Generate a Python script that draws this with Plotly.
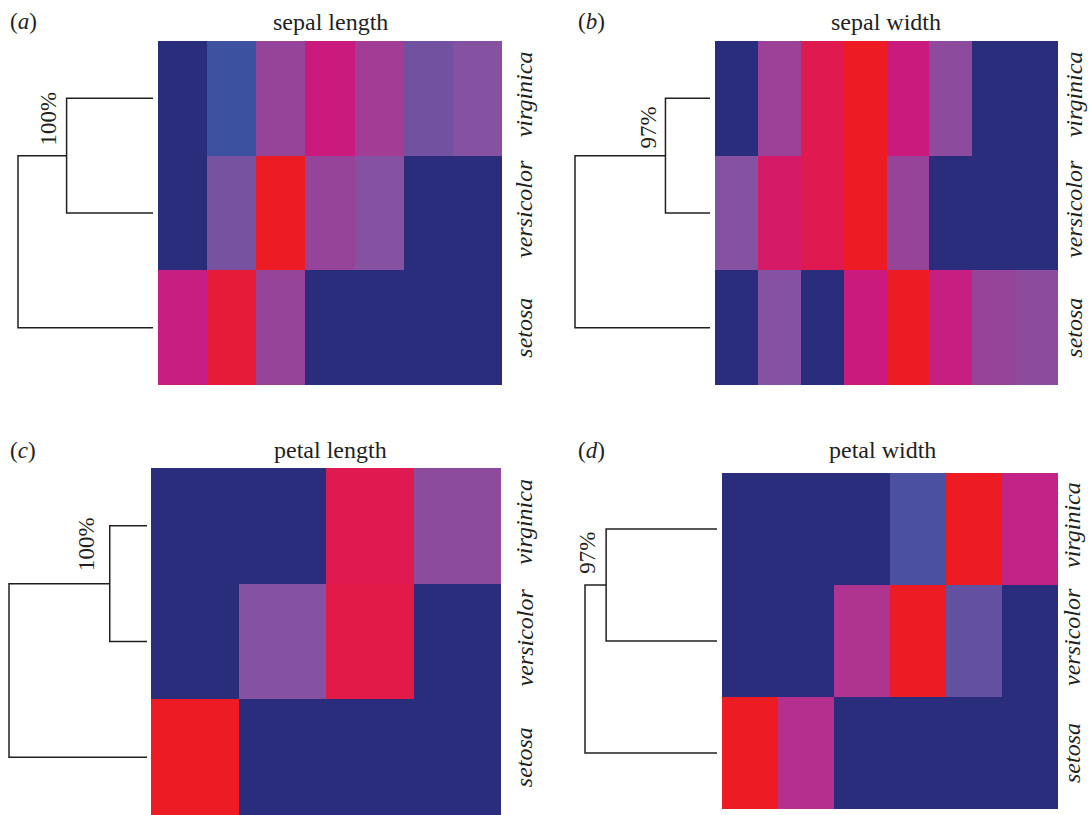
import plotly.graph_objects as go

W, H = 1090, 815

# ---------------- data ----------------
species = ["virginica", "versicolor", "setosa"]          # rows, top to bottom
titles = ["sepal length", "sepal width", "petal length", "petal width"]
letters = ["a", "b", "c", "d"]
support = ["100%", "97%", "100%", "97%"]

# relative frequency per bin (0 = lowest, 1 = highest), rows top to bottom
sepal_length = [
    [0.00, 0.12, 0.60, 0.80, 0.64, 0.38, 0.50],
    [0.00, 0.40, 1.00, 0.60, 0.50, 0.00, 0.00],
    [0.78, 0.95, 0.60, 0.00, 0.00, 0.00, 0.00],
]
sepal_width = [
    [0.00, 0.62, 0.90, 1.00, 0.80, 0.55, 0.00, 0.00],
    [0.50, 0.85, 0.90, 1.00, 0.60, 0.00, 0.00, 0.00],
    [0.00, 0.50, 0.00, 0.80, 1.00, 0.78, 0.60, 0.55],
]
petal_length = [
    [0.00, 0.00, 0.90, 0.55],
    [0.00, 0.50, 0.92, 0.00],
    [1.00, 0.00, 0.00, 0.00],
]
petal_width = [
    [0.00, 0.00, 0.00, 0.20, 1.00, 0.76],
    [0.00, 0.00, 0.68, 1.00, 0.30, 0.00],
    [1.00, 0.70, 0.00, 0.00, 0.00, 0.00],
]
panels_z = [sepal_length, sepal_width, petal_length, petal_width]

# dendrogram merge heights (virginica+versicolor, then + setosa)
dendro_inner = [0.64, 0.33, 0.27, 0.84]
dendro_root = [1.0, 1.0, 1.0, 1.0]

colorscale = [
    [0.00, "#2A2D7B"],
    [0.12, "#3C52A1"],
    [0.20, "#4B50A0"],
    [0.30, "#6450A0"],
    [0.40, "#7652A0"],
    [0.50, "#8452A0"],
    [0.60, "#96449A"],
    [0.70, "#B5308E"],
    [0.80, "#CB1A7E"],
    [0.90, "#DE1A50"],
    [1.00, "#ED1C24"],
]

# ---------------- layout geometry (pixels) ----------------
geom = [
    dict(hx=(158, 502), hy=(41, 385), dx=(18, 153), lab_x=524, sup_dx=-18, sup_y=1.82,
         title=(330, 22), letter=(8, 22)),
    dict(hx=(715, 1058), hy=(41, 385), dx=(575, 710), lab_x=1074, sup_dx=-17, sup_y=1.75,
         title=(886, 22), letter=(576, 22)),
    dict(hx=(151, 501), hy=(468, 815), dx=(9, 147), lab_x=524, sup_dx=-23, sup_y=1.84,
         title=(330, 450), letter=(8, 450)),
    dict(hx=(722, 1058), hy=(473, 809), dx=(585, 717), lab_x=1072, sup_dx=-19, sup_y=1.79,
         title=(882, 450), letter=(576, 450)),
]

FONT = "'Liberation Serif', 'Times New Roman', Times, serif"
TXT = "#231F20"


def px(x):
    return x / W


def py(y):
    return 1 - y / H


fig = go.Figure()
layout = dict(
    width=W, height=H, margin=dict(l=0, r=0, t=0, b=0),
    paper_bgcolor="white", plot_bgcolor="white", showlegend=False,
    font=dict(family=FONT, color=TXT),
)
annotations = []

for i in range(4):
    g = geom[i]
    z = panels_z[i]
    ncol = len(z[0])
    hx_ax = f"x{2 * i + 1}"
    hy_ax = f"y{2 * i + 1}"
    dx_ax = f"x{2 * i + 2}"
    dy_ax = f"y{2 * i + 2}"
    ydom = [py(g["hy"][1]), py(g["hy"][0])]

    # heatmap (bottom row = setosa)
    fig.add_trace(go.Heatmap(
        z=z[::-1], x=list(range(ncol)), y=[0, 1, 2],
        colorscale=colorscale, zmin=0, zmax=1, showscale=False,
        hoverinfo="skip", xaxis=hx_ax, yaxis=hy_ax,
    ))
    layout["xaxis" + str(2 * i + 1)] = dict(
        domain=[px(g["hx"][0]), px(g["hx"][1])], range=[-0.5, ncol - 0.5],
        visible=False, anchor=hy_ax, fixedrange=True)
    layout["yaxis" + str(2 * i + 1)] = dict(
        domain=ydom, range=[-0.5, 2.5], visible=False, anchor=hx_ax, fixedrange=True)

    # dendrogram
    inner, root = dendro_inner[i], dendro_root[i]
    fig.add_trace(go.Scatter(
        x=[0, inner, inner, 0, None, inner, root, root, 0],
        y=[2, 2, 1, 1, None, 1.5, 1.5, 0, 0],
        mode="lines", line=dict(color="#231F20", width=1.5),
        hoverinfo="skip", xaxis=dx_ax, yaxis=dy_ax,
    ))
    pad = 3
    span_px = g["dx"][1] - g["dx"][0]
    pad_h = pad * root / span_px
    layout["xaxis" + str(2 * i + 2)] = dict(
        domain=[px(g["dx"][0] - pad), px(g["dx"][1] + pad)],
        range=[root + pad_h, -pad_h], visible=False, anchor=dy_ax, fixedrange=True)
    layout["yaxis" + str(2 * i + 2)] = dict(
        domain=ydom, range=[-0.5, 2.5], visible=False, anchor=dx_ax, fixedrange=True)

    # bootstrap support
    annotations.append(dict(
        text=support[i], x=inner, y=g["sup_y"], xref=dx_ax, yref=dy_ax,
        xshift=g["sup_dx"], textangle=-90, showarrow=False,
        xanchor="center", yanchor="middle", font=dict(size=23, family=FONT, color=TXT)))

    # species labels
    for r, name in enumerate(species):
        annotations.append(dict(
            text=f"<i>{name}</i>", x=px(g["lab_x"]), y=2 - r, xref="paper", yref=hy_ax,
            yshift=4 if r < 2 else 0, borderpad=0,
            textangle=-90, showarrow=False, xanchor="center", yanchor="middle",
            font=dict(size=24, family=FONT, color=TXT)))

    # title & panel letter
    annotations.append(dict(
        text=titles[i], x=px(g["title"][0]), y=py(g["title"][1]), xref="paper", yref="paper",
        showarrow=False, xanchor="center", yanchor="middle",
        font=dict(size=24, family=FONT, color=TXT)))
    annotations.append(dict(
        text=f"(<i>{letters[i]}</i>)", x=px(g["letter"][0]), y=py(g["letter"][1]),
        xref="paper", yref="paper", showarrow=False, xanchor="left", yanchor="middle",
        font=dict(size=23, family=FONT, color=TXT)))

layout["annotations"] = annotations
fig.update_layout(**layout)
fig.write_html("out.html")
